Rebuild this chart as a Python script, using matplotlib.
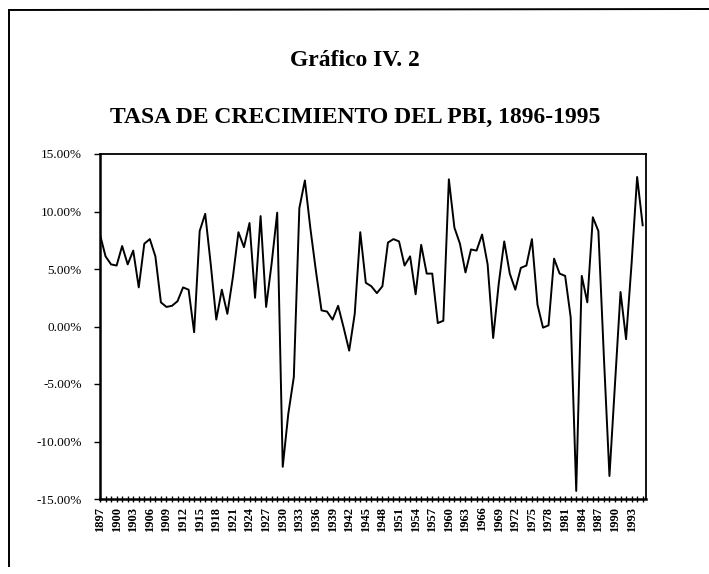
import matplotlib
matplotlib.use("Agg")
import matplotlib.pyplot as plt
from matplotlib.lines import Line2D
from matplotlib.ticker import FixedLocator, MultipleLocator, FuncFormatter

plt.rcParams['font.family'] = ['Liberation Serif', 'DejaVu Serif']

years = list(range(1897, 1996))
growth = [
    8.0, 6.1, 5.4, 5.3, 7.0, 5.4, 6.6, 3.4, 7.2, 7.6,      # 1897-1906
    6.1, 2.1, 1.7, 1.8, 2.2, 3.4, 3.2, -0.5, 8.3, 9.8,     # 1907-1916
    5.4, 0.6, 3.2, 1.1, 4.3, 8.2, 6.9, 9.0, 2.5, 9.6,      # 1917-1926
    1.7, 5.5, 9.9, -12.2, -7.6, -4.4, 10.3, 12.7, 8.5, 4.8,  # 1927-1936
    1.4, 1.3, 0.6, 1.8, -0.1, -2.1, 1.1, 8.2, 3.8, 3.5,    # 1937-1946
    2.9, 3.5, 7.3, 7.6, 7.4, 5.3, 6.1, 2.8, 7.1, 4.6,      # 1947-1956
    4.6, 0.3, 0.5, 12.8, 8.6, 7.2, 4.7, 6.7, 6.6, 8.0,     # 1957-1966
    5.4, -1.0, 3.7, 7.4, 4.6, 3.2, 5.1, 5.3, 7.6, 1.9,     # 1967-1976
    -0.1, 0.1, 5.9, 4.6, 4.4, 0.8, -14.3, 4.4, 2.1, 9.5,   # 1977-1986
    8.3, -2.7, -13.0, -5.0, 3.0, -1.1, 5.5, 13.0, 8.8,     # 1987-1995
]
label_years = list(range(1897, 1996, 3))
y_ticks = [-15, -10, -5, 0, 5, 10, 15]

title1 = "Gráfico IV. 2"
title2 = "TASA DE CRECIMIENTO DEL PBI, 1896-1995"

W, H = 709, 574
fig = plt.figure(figsize=(W / 100, H / 100), dpi=100)

# page frame (left and top edges, as in the scan)
fig.add_artist(Line2D([9 / W, 9 / W], [1 - 566 / H, 1 - 10 / H],
                      transform=fig.transFigure, color='black', linewidth=1.4))
fig.add_artist(Line2D([9 / W, 1.0], [1 - 10 / H, 1 - 9 / H],
                      transform=fig.transFigure, color='black', linewidth=1.4))

fig.text(355 / W, 1 - 60 / H, title1, ha='center', va='center',
         fontsize=17, fontweight='bold')
fig.text(355 / W, 1 - 117 / H, title2, ha='center', va='center',
         fontsize=17, fontweight='bold')

ax = fig.add_axes([100 / W, 1 - 499 / H, (646 - 100) / W, (499 - 154) / H])
ax.plot(years, growth, color='black', linewidth=1.4)

ax.set_xlim(1897, 1995.6)
ax.set_ylim(-15, 15)

ax.yaxis.set_major_locator(FixedLocator(y_ticks))
ax.yaxis.set_major_formatter(FuncFormatter(lambda v, p: f"{v:.2f}%"))
ax.xaxis.set_major_locator(FixedLocator(label_years))
ax.xaxis.set_minor_locator(MultipleLocator(1))
ax.set_xticklabels([str(y) for y in label_years], rotation=90,
                   fontsize=9, fontweight='bold')

for lab in ax.get_yticklabels():
    lab.set_fontsize(9.5)

ax.tick_params(axis='y', direction='out', length=4, width=1.0, pad=9)
ax.tick_params(axis='x', which='both', direction='inout', length=5, width=1.0, pad=3)

for s in ax.spines.values():
    s.set_linewidth(1.3)
ax.spines['left'].set_linewidth(1.8)
ax.spines['bottom'].set_linewidth(1.8)

fig.savefig("out.png", dpi=100)
